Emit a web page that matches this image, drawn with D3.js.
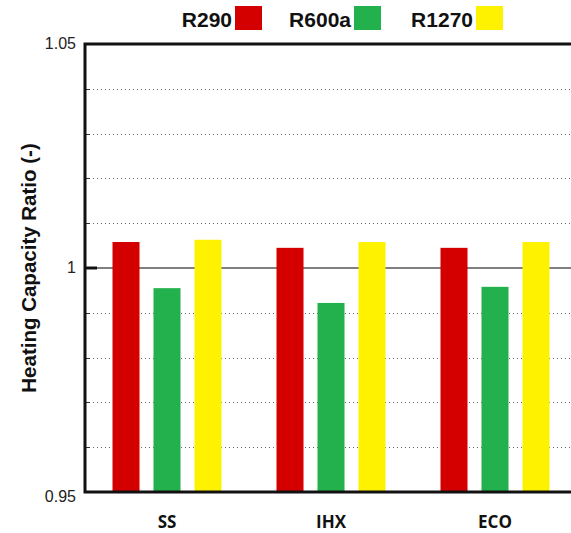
<!DOCTYPE html>
<html>
<head>
<meta charset="utf-8">
<script src="https://cdn.jsdelivr.net/npm/d3@7"></script>
<style>
  body { margin: 0; background: #fff; }
  svg { display: block; }
</style>
</head>
<body>
<div class="chart-area"></div>
<script>
// cycle configurations and refrigerants
const categories = ["SS", "IHX", "ECO"];
const series = ["R290", "R600a", "R1270"];
const colors = ["#d40000", "#22b14c", "#fff200"];

// heating capacity ratio, one array per refrigerant
const r290 = [1.0058, 1.0045, 1.0045];
const r600a = [0.9955, 0.9922, 0.9958];
const r1270 = [1.0063, 1.0058, 1.0058];
const values = [r290, r600a, r1270];

const tickLabels = ["0.95", "1", "1.05"];

let width = 571;
let height = 533;
let margin = {left: 85, top: 44, bottom: 41};
let plotW = 492; // runs off the right side like the original

const svg = d3.select(".chart-area").append("svg")
  .attr("width", width)
  .attr("height", height);

const y = d3.scaleLinear().domain([0.95, 1.05]).range([height - margin.bottom, margin.top]);
const x0 = d3.scaleBand().domain(categories).range([margin.left, margin.left + plotW]);
const x1 = d3.scaleBand().domain(series).range([-54.5, 54.5]).paddingInner(0.341);

// dotted grid every 0.01
const minor = d3.range(1, 10).map(i => 0.95 + i * 0.01).filter(v => Math.abs(v - 1) > 1e-9);
svg.selectAll(".grid")
  .data(minor)
  .enter()
  .append("line")
  .attr("x1", margin.left)
  .attr("x2", margin.left + plotW)
  .attr("y1", d => Math.round(y(d)) + 0.5)
  .attr("y2", d => Math.round(y(d)) + 0.5)
  .attr("stroke", "#666")
  .attr("stroke-width", 1)
  .attr("stroke-dasharray", "1,3");

// short ticks on left
svg.selectAll(".tk")
  .data(minor)
  .enter()
  .append("line")
  .attr("x1", margin.left)
  .attr("x2", margin.left + 5)
  .attr("y1", d => Math.round(y(d)) + 0.5)
  .attr("y2", d => Math.round(y(d)) + 0.5)
  .attr("stroke", "#333");

// solid line at 1
svg.append("line")
  .attr("x1", margin.left)
  .attr("x2", margin.left + plotW)
  .attr("y1", y(1))
  .attr("y2", y(1))
  .attr("stroke", "#555")
  .attr("stroke-width", 1.5);
svg.append("line")
  .attr("x1", margin.left)
  .attr("x2", margin.left + 12)
  .attr("y1", y(1))
  .attr("y2", y(1))
  .attr("stroke", "#111")
  .attr("stroke-width", 3);

// bars
const groups = svg.selectAll(".group")
  .data(categories)
  .enter()
  .append("g")
  .attr("transform", d => `translate(${x0(d) + x0.bandwidth() / 2},0)`);

groups.selectAll("rect")
  .data((c, ci) => series.map((s, si) => ({s: s, si: si, v: values[si][ci]})))
  .enter()
  .append("rect")
  .attr("x", d => x1(d.s))
  .attr("width", x1.bandwidth())
  .attr("y", d => y(d.v))
  .attr("height", d => y(0.95) - y(d.v))
  .attr("fill", d => colors[d.si]);

// frame: left, top, bottom
const yTop = y(1.05), yBot = y(0.95);
svg.append("path")
  .attr("d", `M${margin.left + plotW},${yTop}H${margin.left}V${yBot}H${margin.left + plotW}`)
  .attr("fill", "none")
  .attr("stroke", "#111")
  .attr("stroke-width", 3);

// y tick labels
svg.selectAll(".ylab")
  .data([0.95, 1, 1.05])
  .enter()
  .append("text")
  .attr("x", margin.left - 9)
  .attr("y", (d, i) => y(d) + (i == 0 ? 10 : 5))
  .attr("text-anchor", "end")
  .attr("font-family", "Liberation Sans, Arial, sans-serif")
  .attr("font-size", 16)
  .attr("fill", "#222")
  .text((d, i) => tickLabels[i]);

// y title
svg.append("text")
  .attr("transform", `translate(36,${(yTop + yBot) / 2}) rotate(-90)`)
  .attr("text-anchor", "middle")
  .attr("font-family", "Liberation Sans, Arial, sans-serif")
  .attr("font-weight", "bold")
  .attr("font-size", 20.5)
  .attr("fill", "#111")
  .text("Heating Capacity Ratio (-)");

// category labels
svg.selectAll(".xlab")
  .data(categories)
  .enter()
  .append("text")
  .attr("x", d => x0(d) + x0.bandwidth() / 2)
  .attr("y", 528)
  .attr("text-anchor", "middle")
  .attr("font-family", "Open Sans, sans-serif")
  .attr("font-weight", "bold")
  .attr("font-size", 17)
  .attr("fill", "#111")
  .text(d => d);

// legend
const legX = [232, 351, 473];
series.forEach((s, i) => {
  svg.append("text")
    .attr("x", legX[i])
    .attr("y", 27)
    .attr("text-anchor", "end")
    .attr("font-family", "Liberation Sans, Arial, sans-serif")
    .attr("font-weight", "bold")
    .attr("font-size", 21)
    .attr("fill", "#111")
    .text(s);
  svg.append("rect")
    .attr("x", legX[i] + 3)
    .attr("y", 6)
    .attr("width", 27)
    .attr("height", 24)
    .attr("fill", colors[i]);
});
</script>
</body>
</html>
